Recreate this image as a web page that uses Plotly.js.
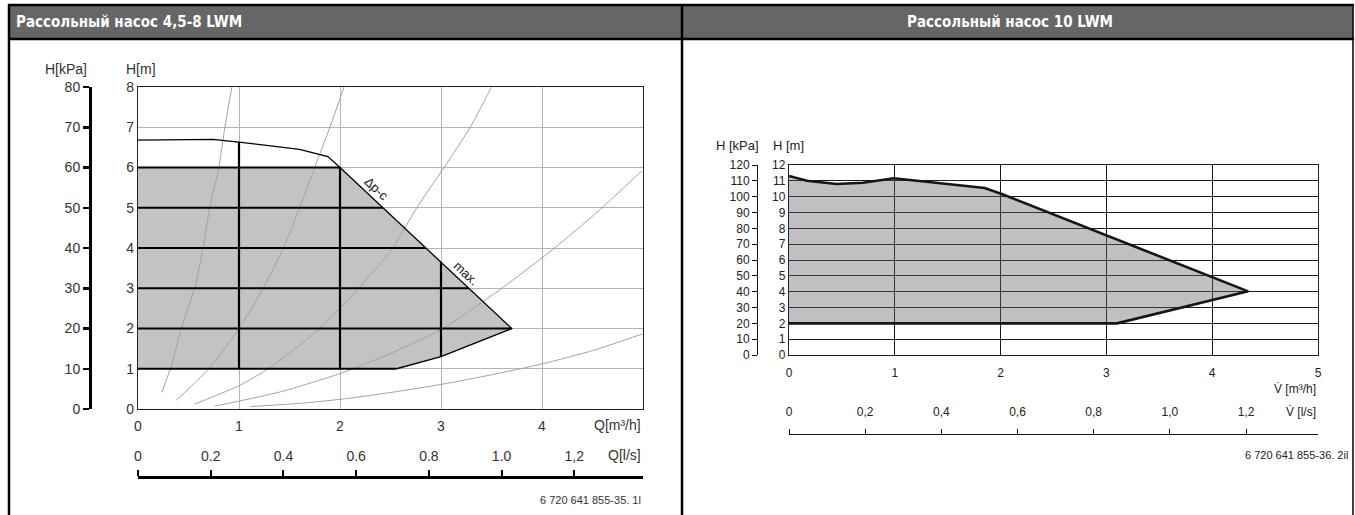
<!DOCTYPE html>
<html>
<head>
<meta charset="utf-8">
<script src="https://cdn.plot.ly/plotly-3.0.1.min.js"></script>
<style>
html,body{margin:0;padding:0;background:#fff;}
#chart{width:1355px;height:515px;}
</style>
</head>
<body>
<div id="chart"></div>
<script>
// ---------- DATA ----------
// Left: Рассольный насос 4,5-8 LWM  (Q in m³/h, H in m)
const lwm48_title = "Рассольный насос 4,5-8 LWM";
const lwm48_maxQ = [0, 0.74, 1.0, 1.6, 1.88, 2.0, 3.7];
const lwm48_maxH = [6.68, 6.70, 6.63, 6.45, 6.27, 6.0, 2.0];
const lwm48_minQ = [3.7, 3.0, 2.56, 0];
const lwm48_minH = [2.0, 1.30, 1.0, 1.0];
const lwm48_dpcTop = 6;   // upper limit of the Δp-c field (m)

// System curves (thin grey)
const sys1Q = [0.235, 0.32, 0.43, 0.56, 0.645, 0.71, 0.80, 0.86, 0.93];
const sys1H = [0.41, 1, 2, 3, 4, 5, 6, 7, 8];
const sys2Q = [0.38, 0.70, 1.0, 1.24, 1.44, 1.60, 1.75, 1.90, 2.04];
const sys2H = [0.22, 1, 2, 3, 4, 5, 6, 7, 8];
const sys3Q = [0.56, 1.0, 1.29, 1.80, 2.17, 2.51, 2.76, 3.03, 3.29, 3.5];
const sys3H = [0.12, 0.58, 1.0, 2.0, 2.96, 3.95, 5, 6, 7, 8];
const sys4Q = [0.76, 1.4, 2.0, 2.5, 3.02, 3.58, 4.10, 4.55, 4.99];
const sys4H = [0.07, 0.42, 0.88, 1.38, 2.0, 2.96, 3.95, 4.9, 5.92];
const sys5Q = [1.11, 1.6, 2.0, 2.5, 3.02, 3.5, 4.0, 4.5, 4.99];
const sys5H = [0.06, 0.14, 0.24, 0.41, 0.62, 0.85, 1.12, 1.45, 1.86];

const lwm48_xTicks = [0, 1, 2, 3, 4];
const lwm48_yTicks = [0, 1, 2, 3, 4, 5, 6, 7, 8];
const lwm48_kpaTicks = [0, 10, 20, 30, 40, 50, 60, 70, 80];
const lwm48_lsTicks = [0, 0.2, 0.4, 0.6, 0.8, 1.0, 1.2];
const lwm48_lsText = ["0", "0.2", "0.4", "0.6", "0.8", "1.0", "1,2"];

// Right: Рассольный насос 10 LWM
const lwm10_title = "Рассольный насос 10 LWM";
const lwm10_maxQ = [0, 0.17, 0.45, 0.70, 0.99, 1.49, 1.85, 2.01, 4.34];
const lwm10_maxH = [11.31, 11.01, 10.80, 10.88, 11.16, 10.78, 10.55, 10.17, 4.02];
const lwm10_minQ = [4.34, 3.10, 0];
const lwm10_minH = [4.02, 2.0, 2.0];

const lwm10_xTicks = [0, 1, 2, 3, 4, 5];
const lwm10_yTicks = [0,1,2,3,4,5,6,7,8,9,10,11,12];
const lwm10_kpaTicks = [0,10,20,30,40,50,60,70,80,90,100,110,120];
const lwm10_lsTicks = [0, 0.2, 0.4, 0.6, 0.8, 1.0, 1.2];
const lwm10_lsText = ["0", "0,2", "0,4", "0,6", "0,8", "1,0", "1,2"];

const M3H_PER_LS = 3.6;

// ---------- HELPERS ----------
const W = 1355, HH = 515;
const px = x => x / W;
const py = y => 1 - y / HH;

function clip(polyX, polyY, horizontal, v) {
  const k = v + 1e-9, hits = [], n = polyX.length;
  const a = horizontal ? polyY : polyX, b = horizontal ? polyX : polyY;
  for (let i = 0; i < n; i++) {
    const j = (i + 1) % n;
    if ((a[i] <= k) !== (a[j] <= k)) {
      const t = (k - a[i]) / (a[j] - a[i]);
      hits.push(b[i] + t * (b[j] - b[i]));
    }
  }
  hits.sort((p, q) => p - q);
  const segs = [];
  for (let i = 0; i + 1 < hits.length; i += 2) segs.push([hits[i], hits[i + 1]]);
  return segs;
}

// envelope of left chart
const envQ = lwm48_maxQ.concat(lwm48_minQ);
const envH = lwm48_maxH.concat(lwm48_minH);
const greyH = envH.map(h => Math.min(h, lwm48_dpcTop));

// black grid inside the field
const gx = [], gy = [];
lwm48_yTicks.filter(v => v > 0 && v < 8).forEach(v => {
  clip(envQ, envH, true, v).forEach(s => { gx.push(s[0], s[1], null); gy.push(v, v, null); });
});
lwm48_xTicks.filter(v => v > 0 && v < 5).forEach(v => {
  clip(envQ, envH, false, v).forEach(s => { gx.push(v, v, null); gy.push(s[0], s[1], null); });
});

const sysStyle = {color: '#a3a3a3', width: 1, shape: 'spline', smoothing: 0.6};
const traces = [
  {x: envQ, y: greyH, xaxis: 'x', yaxis: 'y', mode: 'lines', fill: 'toself',
   fillcolor: '#c2c3c5', line: {width: 0}},
  {x: sys1Q, y: sys1H, xaxis: 'x', yaxis: 'y', mode: 'lines', line: sysStyle},
  {x: sys2Q, y: sys2H, xaxis: 'x', yaxis: 'y', mode: 'lines', line: sysStyle},
  {x: sys3Q, y: sys3H, xaxis: 'x', yaxis: 'y', mode: 'lines', line: sysStyle},
  {x: sys4Q, y: sys4H, xaxis: 'x', yaxis: 'y', mode: 'lines', line: sysStyle},
  {x: sys5Q, y: sys5H, xaxis: 'x', yaxis: 'y', mode: 'lines', line: sysStyle},
  {x: gx, y: gy, xaxis: 'x', yaxis: 'y', mode: 'lines', line: {color: '#000', width: 2.2}, connectgaps: false},
  {x: lwm48_maxQ.concat(lwm48_minQ.slice(1, 3)), y: lwm48_maxH.concat(lwm48_minH.slice(1, 3)),
   xaxis: 'x', yaxis: 'y', mode: 'lines', line: {color: '#000', width: 1.3}},
  {x: [], y: [], xaxis: 'x3', yaxis: 'y3', mode: 'lines'},
  // right chart
  {x: lwm10_maxQ.concat(lwm10_minQ.slice(1)), y: lwm10_maxH.concat(lwm10_minH.slice(1)),
   xaxis: 'x2', yaxis: 'y2', mode: 'lines', fill: 'toself',
   fillcolor: 'rgba(97,98,105,0.4)', line: {color: '#151515', width: 2.6}},
  {x: [], y: [], xaxis: 'x4', yaxis: 'y4', mode: 'lines'}
];
traces.forEach(t => { t.showlegend = false; t.hoverinfo = 'skip'; });

const FF = 'Liberation Sans, Arial, sans-serif';
const tickFontL = {family: FF, size: 14, color: '#333'};
const tickFontR = {family: FF, size: 12, color: '#222'};

const LD = {x: [px(138), px(643)], y: [py(409), py(87)]};
const RD = {x: [px(789), px(1318)], y: [py(355), py(165)]};

function note(text, x, y, xa, size, color, extra) {
  return Object.assign({text: text, xref: 'paper', yref: 'paper', x: px(x), y: py(y),
    xanchor: xa || 'center', yanchor: 'middle', showarrow: false,
    font: {family: FF, size: size || 14, color: color || '#333'}}, extra || {});
}

const layout = {
  width: W, height: HH, margin: {l: 0, r: 0, t: 0, b: 0},
  paper_bgcolor: '#fff', plot_bgcolor: 'rgba(0,0,0,0)', showlegend: false,
  font: {family: FF, color: '#333'},
  xaxis: {domain: LD.x, anchor: 'y', range: [0, 5], tickvals: lwm48_xTicks, ticks: '',
    showgrid: true, gridcolor: '#b4b4b4', gridwidth: 1, zeroline: false,
    showline: true, linecolor: '#222', linewidth: 1.2, mirror: true, tickfont: tickFontL, ticklabelstandoff: 4},
  yaxis: {domain: LD.y, anchor: 'x', range: [0, 8], tickvals: lwm48_yTicks, ticks: '',
    showgrid: true, gridcolor: '#b4b4b4', gridwidth: 1, zeroline: false,
    showline: true, linecolor: '#222', linewidth: 1.2, mirror: true, tickfont: tickFontL},
  yaxis3: {overlaying: 'y', anchor: 'free', position: px(90), side: 'left', range: [0, 80],
    tickvals: lwm48_kpaTicks, ticks: 'outside', ticklen: 6, tickwidth: 2.5, tickcolor: '#000',
    showline: true, linewidth: 2.5, linecolor: '#000', showgrid: false, zeroline: false, tickfont: tickFontL},
  xaxis3: {overlaying: 'x', anchor: 'free', position: py(477), side: 'top', range: [0, 5 / M3H_PER_LS],
    tickvals: lwm48_lsTicks, ticktext: lwm48_lsText, ticks: 'outside', ticklen: 6, tickwidth: 2,
    tickcolor: '#000', showline: true, linewidth: 2.5, linecolor: '#000', showgrid: false, zeroline: false,
    tickfont: tickFontL, ticklabelstandoff: 3},
  xaxis2: {domain: RD.x, anchor: 'y2', range: [0, 5], tickvals: lwm10_xTicks, ticks: '',
    showgrid: true, gridcolor: '#1a1a1a', gridwidth: 1, zeroline: false,
    showline: true, linecolor: '#222', linewidth: 1.2, mirror: true, tickfont: tickFontR, ticklabelstandoff: 6},
  yaxis2: {domain: RD.y, anchor: 'x2', range: [0, 12], tickvals: lwm10_yTicks, ticks: '',
    showgrid: true, gridcolor: '#1a1a1a', gridwidth: 1, zeroline: false,
    showline: true, linecolor: '#222', linewidth: 1.2, mirror: true, tickfont: tickFontR},
  yaxis4: {overlaying: 'y2', anchor: 'free', position: px(757), side: 'left', range: [0, 120],
    tickvals: lwm10_kpaTicks, ticks: 'outside', ticklen: 5, tickwidth: 1, tickcolor: '#111',
    showline: true, linewidth: 1, linecolor: '#111', showgrid: false, zeroline: false, tickfont: tickFontR},
  xaxis4: {overlaying: 'x2', anchor: 'free', position: py(434), side: 'top', range: [0, 5 / M3H_PER_LS],
    tickvals: lwm10_lsTicks, ticktext: lwm10_lsText, ticks: 'outside', ticklen: 5, tickwidth: 1,
    tickcolor: '#111', showline: true, linewidth: 1.3, linecolor: '#111', showgrid: false, zeroline: false,
    tickfont: tickFontR, ticklabelstandoff: 8},
  shapes: [
    {type: 'rect', xref: 'paper', yref: 'paper', x0: px(9), x1: px(1353), y0: py(5), y1: py(39),
     fillcolor: '#666666', line: {width: 0}, layer: 'below'},
    {type: 'line', xref: 'paper', yref: 'paper', x0: px(8), x1: px(1354), y0: py(5), y1: py(5), line: {color: '#000', width: 2.5}},
    {type: 'line', xref: 'paper', yref: 'paper', x0: px(8), x1: px(1354), y0: py(39), y1: py(39), line: {color: '#000', width: 2.5}},
    {type: 'line', xref: 'paper', yref: 'paper', x0: px(9), x1: px(9), y0: py(4), y1: py(515), line: {color: '#000', width: 2.5}},
    {type: 'line', xref: 'paper', yref: 'paper', x0: px(682), x1: px(682), y0: py(4), y1: py(515), line: {color: '#000', width: 2.5}},
    {type: 'line', xref: 'paper', yref: 'paper', x0: px(1353), x1: px(1353), y0: py(4), y1: py(515), line: {color: '#000', width: 1.5}}
  ],
  annotations: [
    note('<b>' + lwm48_title + '</b>', 14, 22, 'left', 15, '#fff',
      {font: {family: "'Liberation Sans Narrow', 'DejaVu Sans Condensed', sans-serif", size: 15, color: '#fff'}}),
    note('<b>' + lwm10_title + '</b>', 1010, 22, 'center', 15, '#fff',
      {font: {family: "'Liberation Sans Narrow', 'DejaVu Sans Condensed', sans-serif", size: 15, color: '#fff'}}),
    note('H[kPa]', 66, 69, 'center', 14),
    note('H[m]', 141, 69, 'center', 14),
    note('Q[m³/h]', 643, 425, 'right', 14),
    note('Q[l/s]', 643, 455, 'right', 14),
    {text: 'Δp-c', xref: 'x', yref: 'y', x: 2.36, y: 5.48, xanchor: 'center', yanchor: 'middle', textangle: 43,
     showarrow: false, font: {family: FF, size: 13, color: '#222'}},
    {text: 'max.', xref: 'x', yref: 'y', x: 3.25, y: 3.37, xanchor: 'center', yanchor: 'middle', textangle: 43,
     showarrow: false, font: {family: FF, size: 13, color: '#222'}},
    note('6 720 641 855-35. 1l', 643, 500, 'right', 11),
    note('H [kPa]', 737, 146, 'center', 13, '#222'),
    note('H [m]', 788, 146, 'center', 13, '#222'),
    note('V̇ [m³/h]', 1318, 389, 'right', 12, '#222'),
    note('V̇ [l/s]', 1318, 412, 'right', 12, '#222'),
    note('6 720 641 855-36. 2il', 1350, 455, 'right', 11, '#222')
  ]
};

Plotly.newPlot('chart', traces, layout, {staticPlot: true, displayModeBar: false});
</script>
</body>
</html>
